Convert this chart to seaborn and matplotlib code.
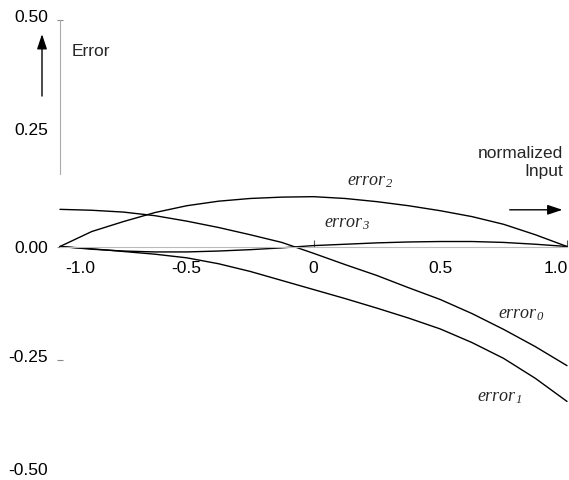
import matplotlib
matplotlib.use("Agg")
import matplotlib.pyplot as plt
import matplotlib.transforms as mtransforms
import pandas as pd
import seaborn as sns

# sample positions along the normalized input
x_vals = [-1.0, -0.875, -0.75, -0.625, -0.5, -0.375, -0.25, -0.125, 0.0,
          0.125, 0.25, 0.375, 0.5, 0.625, 0.75, 0.875, 1.0]

# error curves
error_0 = [0.082, 0.080, 0.076, 0.068, 0.056, 0.042, 0.026, 0.009, -0.015,
           -0.040, -0.064, -0.091, -0.117, -0.148, -0.183, -0.221, -0.263]
error_1 = [0.0, -0.005, -0.011, -0.017, -0.025, -0.038, -0.055, -0.075, -0.095,
           -0.115, -0.136, -0.158, -0.182, -0.212, -0.247, -0.291, -0.342]
error_2 = [0.0, 0.033, 0.055, 0.075, 0.090, 0.100, 0.106, 0.109, 0.110,
           0.106, 0.099, 0.090, 0.079, 0.066, 0.049, 0.026, 0.0]
error_3 = [0.0, -0.006, -0.010, -0.012, -0.012, -0.010, -0.007, -0.003, 0.002,
           0.005, 0.008, 0.010, 0.011, 0.011, 0.009, 0.005, 0.0]

x_ticks = [-1.0, -0.5, 0.0, 0.5, 1.0]
x_tick_labels = ["-1.0", "-0.5", "0", "0.5", "1.0"]
y_ticks = [0.5, 0.25, 0.0, -0.25, -0.5]
y_tick_labels = ["0.50", "0.25", "0.00", "-0.25", "-0.50"]

curve_labels = {
    "error0": (0.819, -0.149, r"$error_{0}$"),
    "error1": (0.732, -0.332, r"$error_{1}$"),
    "error2": (0.224, 0.145, r"$error_{2}$"),
    "error3": (0.132, 0.054, r"$error_{3}$"),
}

frames = []
for name, vals in [("error0", error_0), ("error1", error_1),
                   ("error2", error_2), ("error3", error_3)]:
    frames.append(pd.DataFrame({"x": x_vals, "err": vals, "curve": name}))
df = pd.concat(frames, ignore_index=True)

sns.set_style("white")
plt.rcParams["font.family"] = ["Liberation Sans", "DejaVu Sans"]
plt.rcParams["axes.unicode_minus"] = False
plt.rcParams["mathtext.fontset"] = "custom"
plt.rcParams["mathtext.it"] = "Liberation Serif:italic"
plt.rcParams["mathtext.rm"] = "Liberation Serif:italic"

fig = plt.figure(figsize=(5.69, 4.81), dpi=100)
ax = fig.add_axes([60 / 569, 7 / 481, 507 / 569, 453 / 481])

sns.lineplot(data=df, x="x", y="err", hue="curve", palette=["black"] * 4,
             legend=False, linewidth=1.0, ax=ax, clip_on=False)

ax.set_xlim(-1.0, 1.0)
ax.set_ylim(-0.5, 0.5)
ax.set_xlabel("")
ax.set_ylabel("")

for side in ["top", "right"]:
    ax.spines[side].set_visible(False)
ax.spines["bottom"].set_position(("data", 0))
ax.spines["bottom"].set_color("#bbbbbb")
ax.spines["bottom"].set_linewidth(0.8)
ax.spines["left"].set_color("#aaaaaa")
ax.spines["left"].set_linewidth(0.8)
ax.spines["left"].set_bounds(0.16, 0.5)

ax.set_xticks(x_ticks, labels=x_tick_labels)
ax.set_yticks(y_ticks, labels=y_tick_labels)
ax.tick_params(axis="x", bottom=True, direction="in", length=5, width=0.8,
               color="#555555", pad=10, labelsize=12.5, labelcolor="black")
ax.tick_params(axis="y", left=True, direction="inout", length=4.5, width=0.8,
               color="#888888", pad=6.4, labelsize=12.5, labelcolor="black")

# only some tick marks are drawn in the original
for val, tick in zip(x_ticks, ax.xaxis.get_major_ticks()):
    if val not in (0.0, 1.0):
        tick.tick1line.set_visible(False)
for val, tick in zip(y_ticks, ax.yaxis.get_major_ticks()):
    if val not in (0.5, 0.0, -0.25):
        tick.tick1line.set_visible(False)

# nudge the end labels inward like the original
xl = ax.get_xticklabels()
xl[0].set_transform(xl[0].get_transform() +
                    mtransforms.ScaledTranslation(0.2, 0, fig.dpi_scale_trans))
xl[-1].set_transform(xl[-1].get_transform() +
                     mtransforms.ScaledTranslation(-0.11, 0, fig.dpi_scale_trans))
for lab in ax.get_yticklabels():
    if lab.get_text() != "0.00":
        lab.set_transform(lab.get_transform() +
                          mtransforms.ScaledTranslation(0, 0.05, fig.dpi_scale_trans))

for name, (lx, ly, txt) in curve_labels.items():
    ax.text(lx, ly, txt, fontsize=13, ha="center", va="center")

ax.text(-0.955, 0.432, "Error", fontsize=12.5, ha="left", va="center")
ax.annotate("", xy=(-1.071, 0.475), xytext=(-1.071, 0.326),
            arrowprops=dict(arrowstyle="-|>,head_length=0.9,head_width=0.3",
                            color="black", lw=1.0), annotation_clip=False)

ax.text(0.984, 0.188, "normalized\nInput", fontsize=12.5, ha="right",
        va="center", multialignment="right", linespacing=1.25)
ax.annotate("", xy=(0.993, 0.081), xytext=(0.763, 0.081),
            arrowprops=dict(arrowstyle="-|>,head_length=0.9,head_width=0.3",
                            color="black", lw=1.0), annotation_clip=False)

fig.savefig("out.png", dpi=100)
